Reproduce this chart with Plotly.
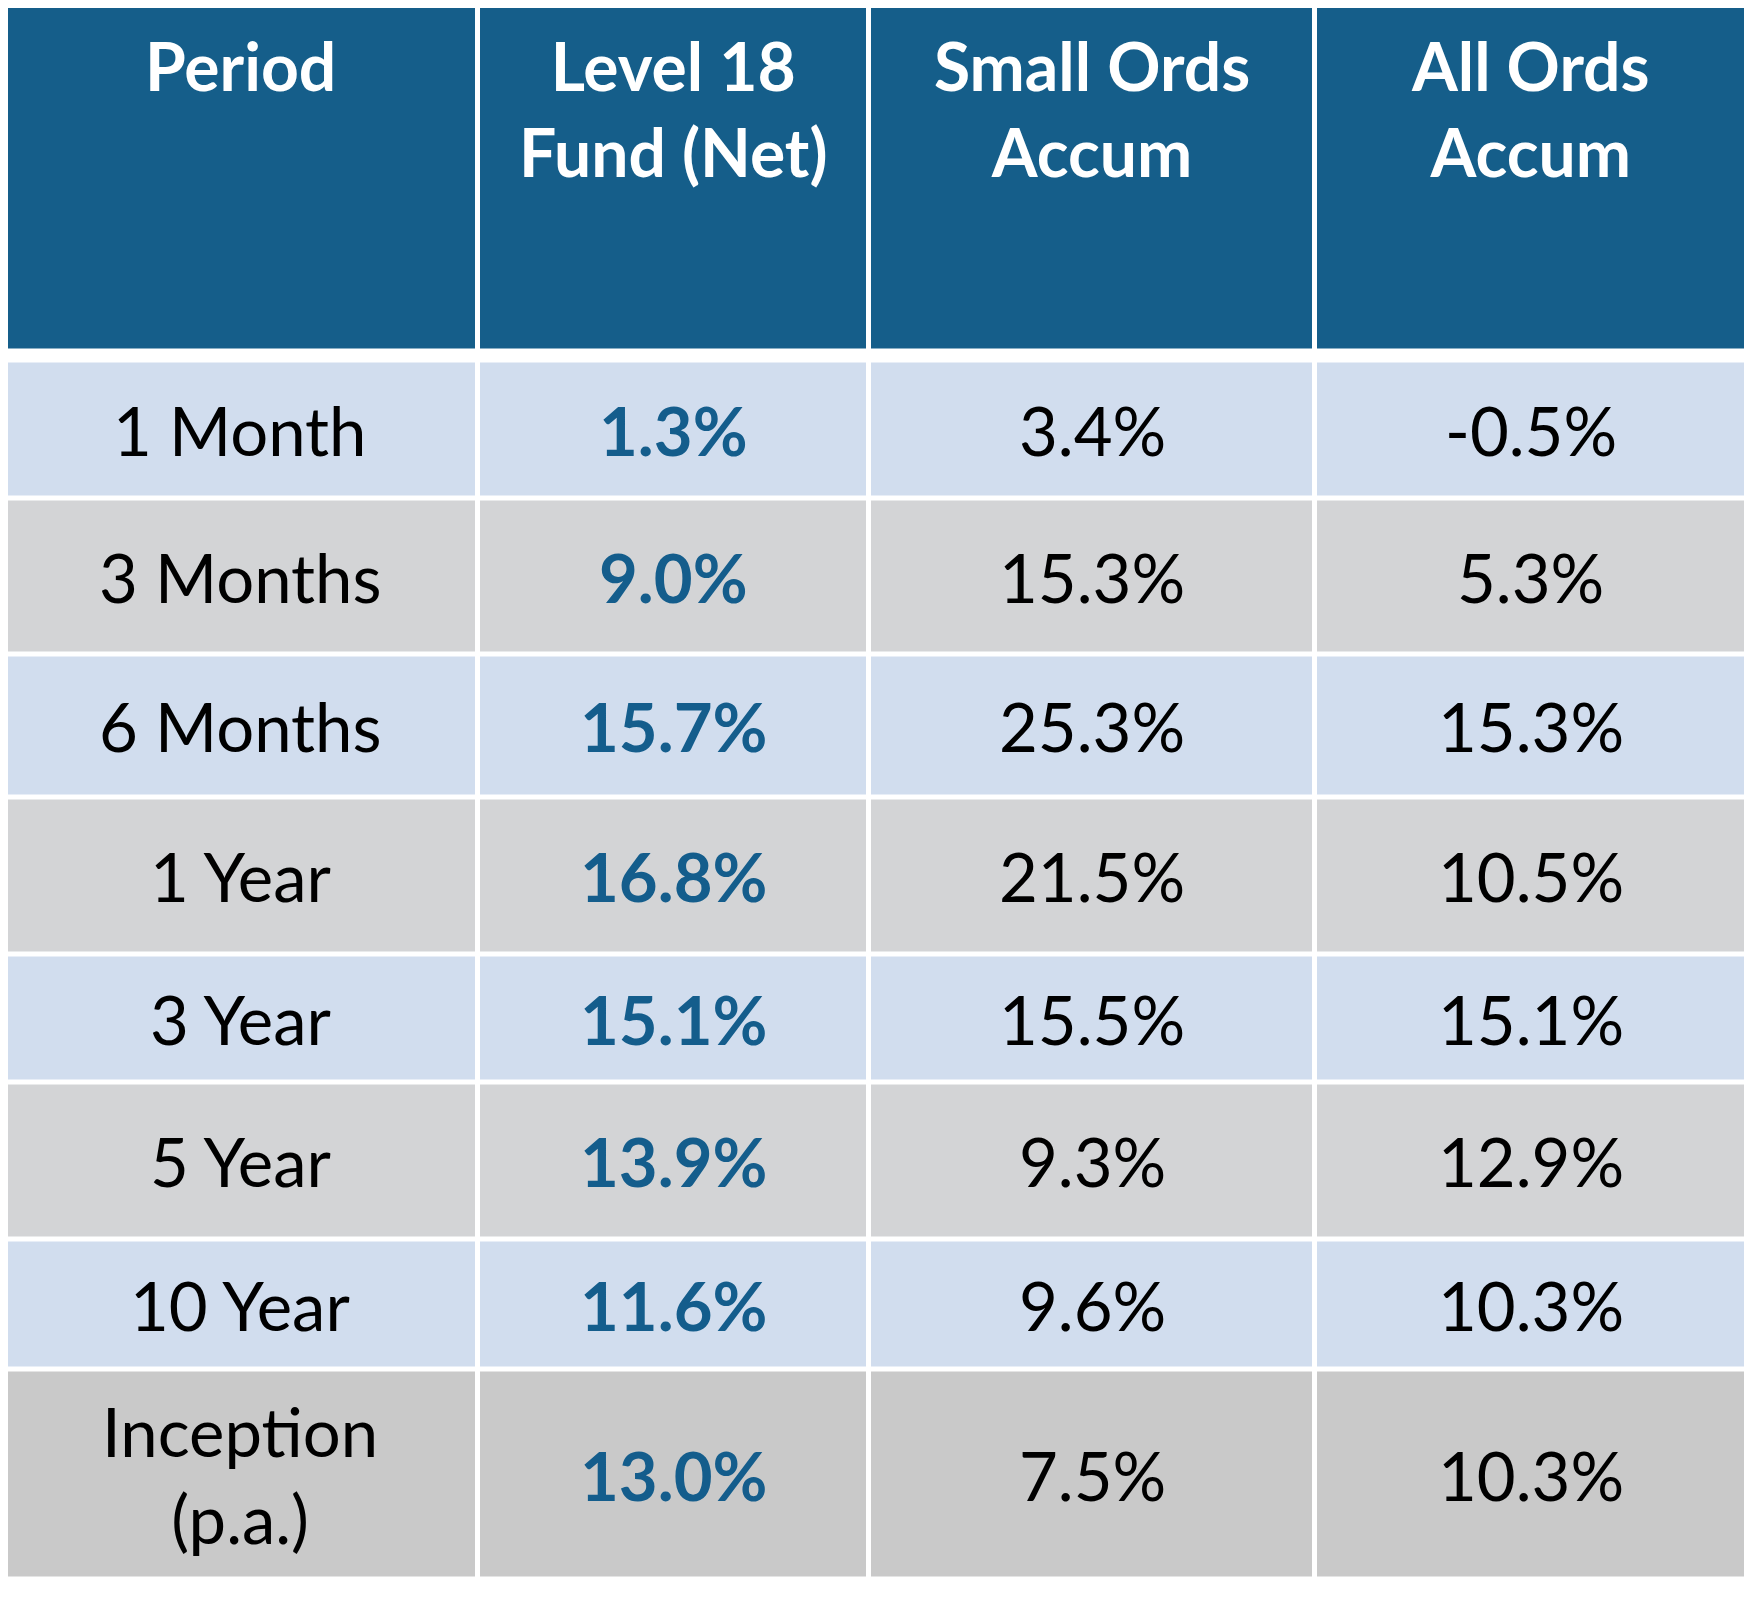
#!/usr/bin/env python
# coding: utf-8

"""
Performance table - Level 18 Fund vs Small Ords / All Ords (accumulation).
"""

import numpy as np
import plotly.graph_objects as go

## Data

headers = ["Period", "Level 18<br>Fund (Net)", "Small Ords<br>Accum", "All Ords<br>Accum"]
periods = ["1 Month", "3 Months", "6 Months", "1 Year", "3 Year",
           "5 Year", "10 Year", "Inception<br>(p.a.)"]
fund_net = [1.3, 9.0, 15.7, 16.8, 15.1, 13.9, 11.6, 13.0]
small_ords = [3.4, 15.3, 25.3, 21.5, 15.5, 9.3, 9.6, 7.5]
all_ords = [-0.5, 5.3, 15.3, 10.5, 15.1, 12.9, 10.3, 10.3]

## Layout (page pixels)

W, H = 1756, 1608
page_margin = 8          # default body margin of the html page
table_left = 2
col_widths = [476.3, 391, 445.4, 431.8]
header_top = 5.5
header_height = 345.5
body_top = 360.5
row_heights = [138, 156, 143, 157, 128, 157, 130, 210]
gap = 5

header_blue = "#155e8a"
row_blue = "#d1ddee"
row_grey = "#d3d4d6"
last_grey = "#c9c9c9"
fund_blue = "#145d8c"
font_family = "Lato"

# Cell edges from the size lists
col_edges = table_left + np.concatenate([[0], np.cumsum(col_widths)])
col_mid = (col_edges[:-1] + col_edges[1:]) / 2
head_edges = [header_top, header_top + header_height]
row_edges = body_top + np.concatenate([[0], np.cumsum(row_heights)])
row_mid = (row_edges[:-1] + row_edges[1:]) / 2

n_rows = len(periods)
n_cols = len(headers)

# Row shading: alternate blue / grey, last row a touch darker
shade = [i % 2 for i in range(n_rows)]
shade[-1] = 2
z_body = [[s] * n_cols for s in shade]

fig = go.Figure()

# Header cells
fig.add_trace(go.Heatmap(
    x=col_edges, y=head_edges, z=[[0] * n_cols],
    colorscale=[[0, header_blue], [1, header_blue]],
    showscale=False, xgap=gap, ygap=gap, hoverinfo="skip",
))

# Body cells
fig.add_trace(go.Heatmap(
    x=col_edges, y=row_edges, z=z_body, zmin=0, zmax=2,
    colorscale=[[0, row_blue], [0.25, row_blue], [0.25, row_grey],
                [0.75, row_grey], [0.75, last_grey], [1, last_grey]],
    showscale=False, xgap=gap, ygap=gap, hoverinfo="skip",
))

# Header text (top aligned, white bold)
for j, h in enumerate(headers):
    fig.add_annotation(
        x=col_mid[j], y=24, text=h, showarrow=False,
        xanchor="center", yanchor="top",
        font=dict(family=font_family, size=66, color="white", weight="bold"),
    )

# Body text
columns = [periods,
           [f"{v:.1f}%" for v in fund_net],
           [f"{v:.1f}%" for v in small_ords],
           [f"{v:.1f}%" for v in all_ords]]
for j, col in enumerate(columns):
    if j == 1:
        fnt = dict(family=font_family, size=67, color=fund_blue, weight="bold")
    else:
        fnt = dict(family=font_family, size=67, color="black")
    for i, txt in enumerate(col):
        fig.add_annotation(
            x=col_mid[j], y=row_mid[i], text=txt, showarrow=False,
            xanchor="center", yanchor="middle", font=fnt,
        )

# Figure sits inside the page margin, axes keep page pixel units
fig_w = W - 2 * page_margin
fig_h = H - 2 * page_margin
fig.update_xaxes(range=[page_margin, page_margin + fig_w], visible=False, fixedrange=True)
fig.update_yaxes(range=[page_margin + fig_h, page_margin], visible=False, fixedrange=True)
fig.update_layout(
    width=fig_w, height=fig_h, autosize=False,
    margin=dict(l=0, r=0, t=0, b=0, pad=0),
    paper_bgcolor="white", plot_bgcolor="white",
    showlegend=False,
)

fig.write_html("out.html")
